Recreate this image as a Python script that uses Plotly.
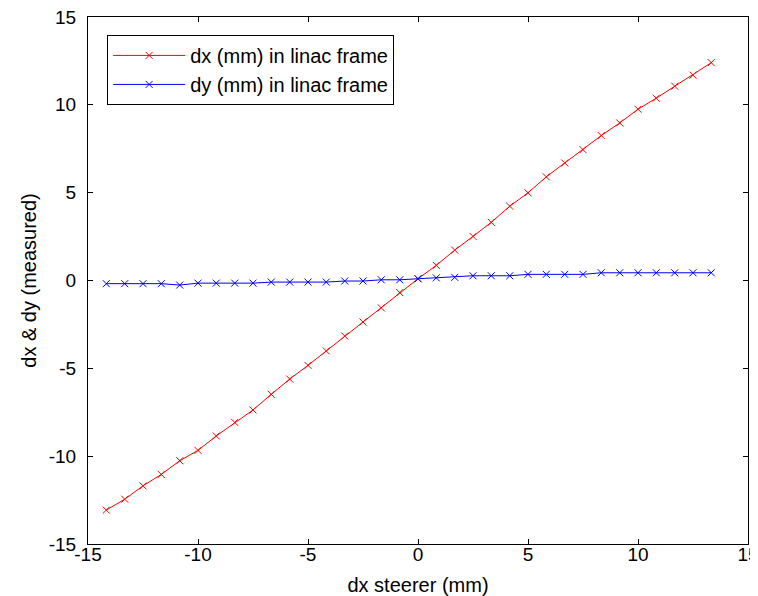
import plotly.graph_objects as go

steerer_dx = [-14.17, -13.33, -12.5, -11.67, -10.83, -10.0, -9.17, -8.33, -7.5, -6.67,
              -5.83, -5.0, -4.17, -3.33, -2.5, -1.67, -0.83, 0.0, 0.83, 1.67,
              2.5, 3.33, 4.17, 5.0, 5.83, 6.67, 7.5, 8.33, 9.17, 10.0,
              10.83, 11.67, 12.5, 13.33]
dx_meas = [-13.07, -12.45, -11.69, -11.04, -10.26, -9.67, -8.85, -8.08, -7.37, -6.48,
           -5.61, -4.83, -4.01, -3.16, -2.36, -1.56, -0.69, 0.1, 0.86, 1.73,
           2.51, 3.31, 4.23, 4.99, 5.90, 6.69, 7.45, 8.25, 8.97, 9.75,
           10.38, 11.06, 11.69, 12.40]
dy_meas = [-0.18, -0.18, -0.18, -0.18, -0.26, -0.15, -0.15, -0.15, -0.15, -0.09,
           -0.09, -0.09, -0.09, -0.03, -0.03, 0.04, 0.04, 0.10, 0.15, 0.18,
           0.27, 0.27, 0.27, 0.35, 0.35, 0.35, 0.35, 0.44, 0.44, 0.44,
           0.44, 0.44, 0.44, 0.44]
ticks = [-15, -10, -5, 0, 5, 10, 15]
tick_labels = ["-15", "-10", "-5", "0", "5", "10", "15"]

font = "Liberation Sans, Arial, sans-serif"

fig = go.Figure()
fig.add_trace(go.Scatter(x=steerer_dx, y=dx_meas, mode="lines+markers",
                         name="dx (mm) in linac frame",
                         line=dict(color="#ff0000", width=1),
                         marker=dict(symbol="x-thin", size=7, line=dict(color="#ff0000", width=1))))
fig.add_trace(go.Scatter(x=steerer_dx, y=dy_meas, mode="lines+markers",
                         name="dy (mm) in linac frame",
                         line=dict(color="#0000ff", width=1),
                         marker=dict(symbol="x-thin", size=7, line=dict(color="#0000ff", width=1))))

axis_common = dict(range=[-15, 15], tickvals=ticks, ticktext=tick_labels,
                   ticks="inside", ticklen=5,
                   tickcolor="black", showline=True, linecolor="black", linewidth=1,
                   mirror="ticks", showgrid=False, zeroline=False,
                   ticklabeloverflow="allow",
                   tickfont=dict(family=font, size=19, color="black"))

fig.update_layout(
    width=750, height=588,
    paper_bgcolor="white", plot_bgcolor="white",
    margin=dict(l=80, r=10, t=9, b=52),
    font=dict(family=font, size=19, color="black"),
    xaxis=dict(**axis_common, ticklabelstandoff=-7, automargin=False,
               title=dict(text="dx steerer (mm)",
                          font=dict(family=font, size=20))),
    yaxis=dict(**axis_common, ticklabelstandoff=7, automargin="left",
               title=dict(text="dx & dy (measured)", standoff=6,
                          font=dict(family=font, size=20))),
    legend=dict(x=0.029, y=0.966, xanchor="left", yanchor="top",
                bgcolor="white", bordercolor="black", borderwidth=1,
                font=dict(family=font, size=20, color="black"),
                tracegroupgap=0, itemwidth=72),
    showlegend=True,
)

fig.write_html("out.html")
